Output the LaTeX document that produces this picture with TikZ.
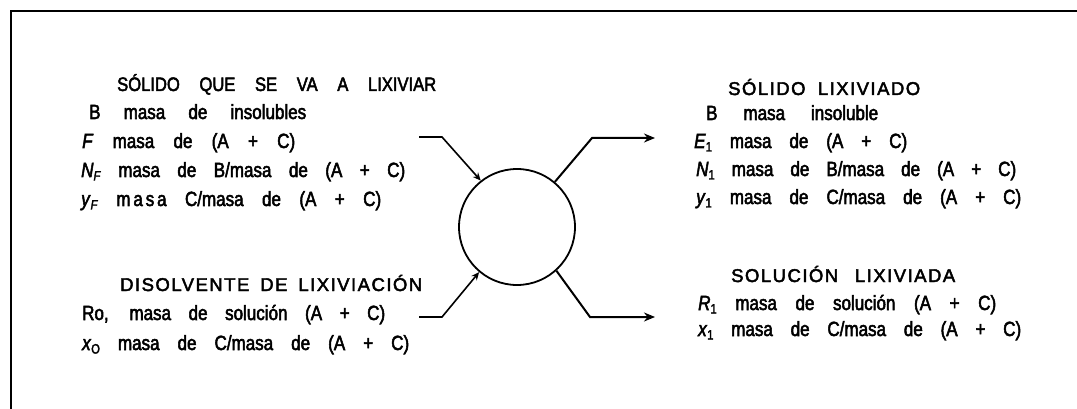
\documentclass[tikz,border=0pt]{standalone}
\usepackage{fontspec}
\setmainfont{Liberation Sans}[FakeBold=2.5, FakeStretch=0.83]
\newfontfamily\headfont{Liberation Sans}[FakeBold=2.5, LetterSpace=8]
\newfontfamily\narrowheadfont{Liberation Sans}[FakeBold=2.5, FakeStretch=0.85]
\usetikzlibrary{arrows.meta}
% a line of text spread to a given width through its interword spaces
\newcommand{\spreadline}[2]{\makebox[#1][s]{#2}}
\newcommand{\var}[2]{\textit{#1}\raisebox{-3.5pt}{\fontsize{13.5}{13.5}\selectfont #2}}
\tikzset{
  bodytext/.style={anchor=base west, inner sep=0pt, font=\fontsize{20.5}{20.5}\selectfont},
  headtext/.style={anchor=base west, inner sep=0pt, font=\headfont\fontsize{18.5}{18.5}\selectfont},
  narrowhead/.style={headtext, font=\narrowheadfont\fontsize{19.5}{19.5}\selectfont},
  flow/.style={line width=1.6pt},
  inarrow/.style={flow, -{Stealth[length=8pt, width=7pt]}},
  outarrow/.style={flow, line width=2pt, -{Stealth[length=11pt, width=9pt]}},
}
\hbadness=10000 \hfuzz=100pt
\begin{document}
\begin{tikzpicture}[x=1pt, y=-1pt]
  \useasboundingbox (0,0) rectangle (1077,409);
  % outer frame (open to the right and below)
  \draw[line width=2.3pt] (11.3,409) -- (11.3,11.3) -- (1077,11.3);

  % leaching stage
  \node[circle, draw, line width=1.8pt, minimum size=116pt, inner sep=0pt] (stage) at (517,227) {};

  % feed solid
  \node[narrowhead] (feedhead) at (117,91) {\spreadline{319pt}{SÓLIDO QUE SE VA A LIXIVIAR}};
  \node[bodytext] (feedB) at (89,119) {\spreadline{217pt}{B masa de insolubles}};
  \node[bodytext] (feedF) at (82,148) {\spreadline{213pt}{\var{F}{} masa de (A + C)}};
  \node[bodytext] (feedN) at (81,177) {\spreadline{324pt}{\var{N}{\textit{F}} masa de B/masa de (A + C)}};
  \node[bodytext] (feedy) at (81,206) {\spreadline{300pt}{\var{y}{\textit{F}} {\addfontfeature{LetterSpace=14}masa} C/masa de (A + C)}};

  % leaching solvent
  \node[headtext] (solvhead) at (120,291) {\spreadline{302pt}{DISOLVENTE DE LIXIVIACIÓN}};
  \node[bodytext] (solvR) at (82,320) {\spreadline{303pt}{Ro, masa de solución (A + C)}};
  \node[bodytext] (solvx) at (82,350) {\spreadline{327pt}{\var{x}{O} masa de C/masa de (A + C)}};

  % leached solid
  \node[headtext] (solidhead) at (728,95) {\spreadline{192pt}{SÓLIDO LIXIVIADO}};
  \node[bodytext] (solidB) at (706,120) {\spreadline{172pt}{B masa insoluble}};
  \node[bodytext] (solidE) at (694,148) {\spreadline{213pt}{\var{E}{1} masa de (A + C)}};
  \node[bodytext] (solidN) at (696,176) {\spreadline{320pt}{\var{N}{1} masa de B/masa de (A + C)}};
  \node[bodytext] (solidy) at (696,204) {\spreadline{325pt}{\var{y}{1} masa de C/masa de (A + C)}};

  % leached solution
  \node[headtext] (lixhead) at (731,282) {\spreadline{224pt}{SOLUCIÓN LIXIVIADA}};
  \node[bodytext] (lixR) at (698,310) {\spreadline{298pt}{\var{R}{1} masa de solución (A + C)}};
  \node[bodytext] (lixx) at (698,336) {\spreadline{323pt}{\var{x}{1} masa de C/masa de (A + C)}};

  % stream connectors
  \coordinate (feedin) at (419,137);
  \coordinate (feedbend) at (442,137);
  \coordinate (solvin) at (419,317);
  \coordinate (solvbend) at (442,317);
  \coordinate (solidbend) at (592,138);
  \coordinate (solidout) at (655,138);
  \coordinate (lixbend) at (590,317);
  \coordinate (lixout) at (655,317);

  \draw[inarrow] (feedin) -- (feedbend) -- (stage.128);
  \draw[inarrow] (solvin) -- (solvbend) -- (stage.230);
  \draw[outarrow] (stage.50) -- (solidbend) -- (solidout);
  \draw[outarrow] (stage.-48) -- (lixbend) -- (lixout);
\end{tikzpicture}
\end{document}
